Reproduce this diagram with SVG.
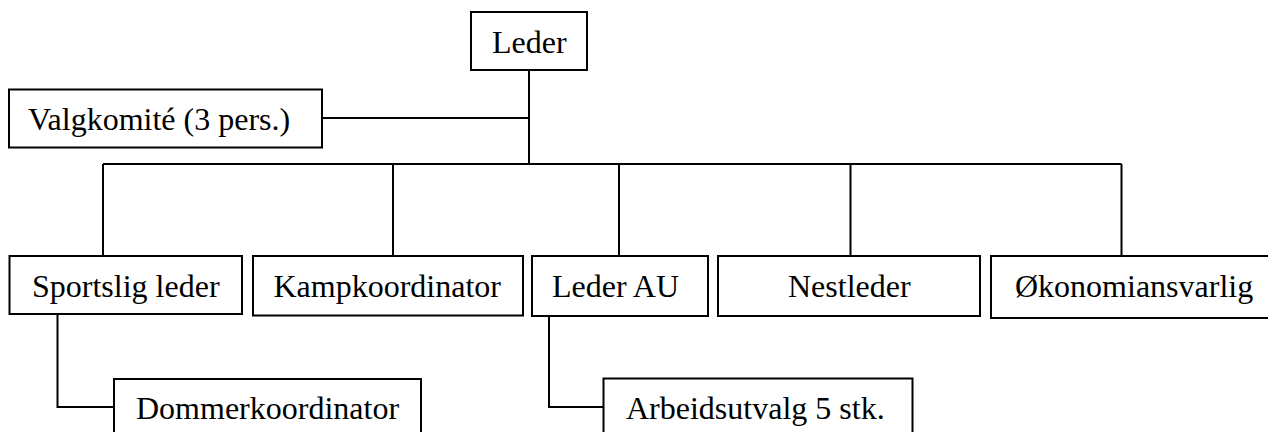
<svg xmlns="http://www.w3.org/2000/svg" width="1268" height="432" viewBox="0 0 1268 432">
<style>
.box{fill:#fff;stroke:#000;stroke-width:2}
.lbl{font-family:"Liberation Serif","Times New Roman",serif;font-size:32px;fill:#000}
.conn{fill:none;stroke:#000;stroke-width:2}
</style>
<rect width="1268" height="432" fill="#fff"/>
<g id="connectors">
<path class="conn" d="M529 70V164"/>
<path class="conn" d="M322 118H529"/>
<path class="conn" d="M103 164H1121.5"/>
<path class="conn" d="M103 164V256M393 164V256M619 164V256M850.5 164V256M1121.5 164V256"/>
<path class="conn" d="M57.5 314V407H114"/>
<path class="conn" d="M549 316V407H603.5"/>
</g>
<g id="leder"><rect class="box" x="471" y="12" width="116" height="58"/><text class="lbl" x="492" y="52.5">Leder</text></g>
<g id="valgkomite"><rect class="box" x="9" y="89.5" width="313" height="58"/><text class="lbl" x="28" y="130">Valgkomité (3 pers.)</text></g>
<g id="sportslig"><rect class="box" x="9.5" y="256" width="232.5" height="58"/><text class="lbl" x="32" y="296.7">Sportslig leder</text></g>
<g id="kamp"><rect class="box" x="253" y="256" width="270" height="59.5"/><text class="lbl" x="273.5" y="296.7">Kampkoordinator</text></g>
<g id="lederau"><rect class="box" x="532" y="256" width="176" height="60"/><text class="lbl" x="552" y="296.7">Leder AU</text></g>
<g id="nestleder"><rect class="box" x="718" y="256" width="262" height="60"/><text class="lbl" x="788" y="296.7">Nestleder</text></g>
<g id="okonomi"><rect class="box" x="991" y="256" width="280" height="62"/><text class="lbl" x="1015" y="296.7">Økonomiansvarlig</text></g>
<g id="dommer"><rect class="box" x="114" y="379" width="307" height="60"/><text class="lbl" x="136" y="419">Dommerkoordinator</text></g>
<g id="arbeid"><rect class="box" x="603.5" y="378.5" width="309" height="60"/><text class="lbl" x="626" y="418.5">Arbeidsutvalg 5 stk.</text></g>
</svg>
